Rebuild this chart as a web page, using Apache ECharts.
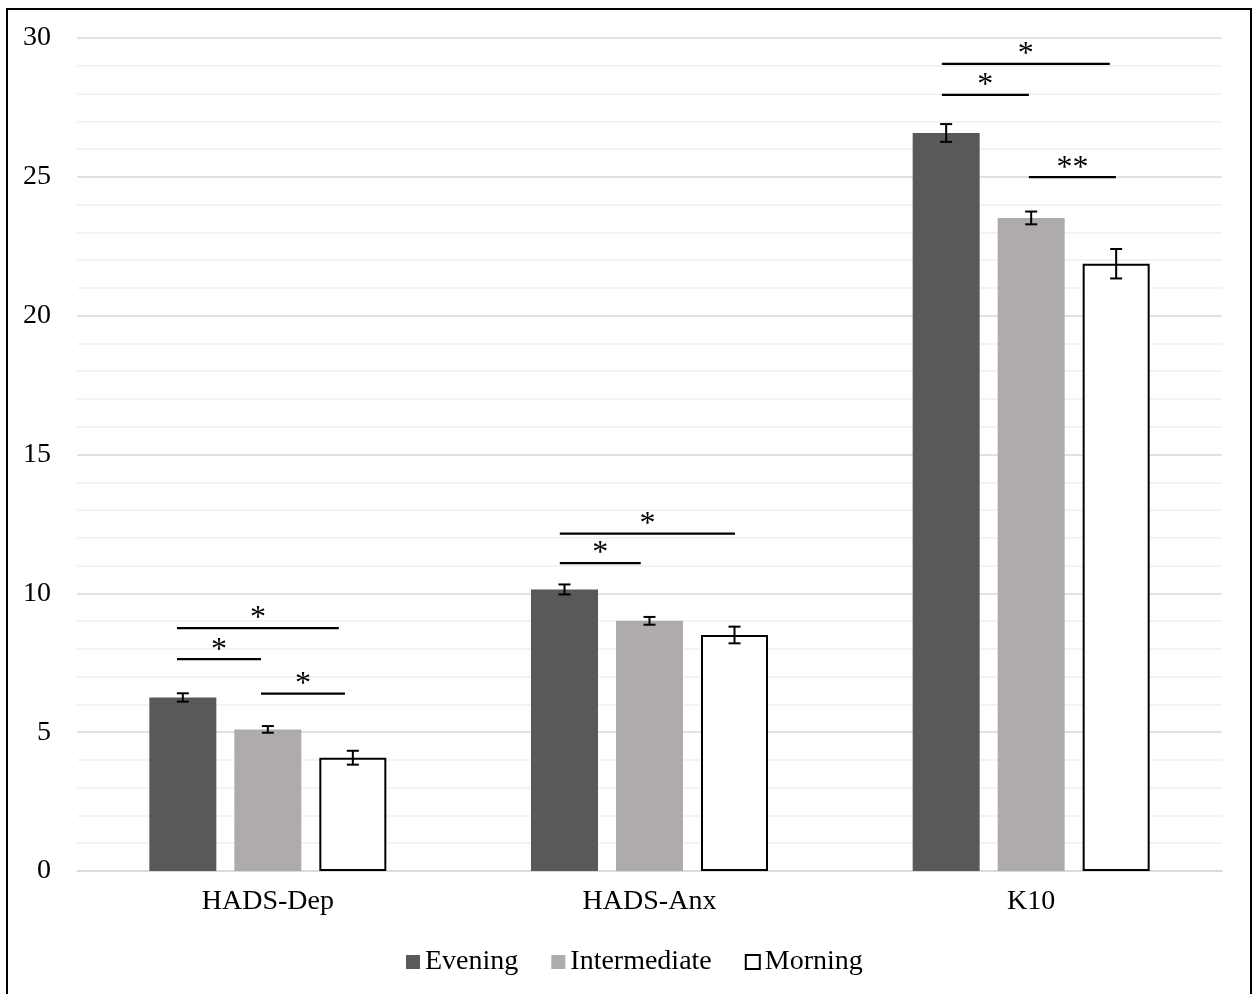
<!DOCTYPE html>
<html>
<head>
<meta charset="utf-8">
<script src="https://cdn.jsdelivr.net/npm/echarts@6/dist/echarts.min.js"></script>
<style>
html,body{margin:0;padding:0;background:#fff;}
#frame{position:absolute;left:6px;top:8px;width:1242px;height:990px;border-left:2px solid #000;border-top:2px solid #000;border-right:2px solid #000;}
#main{position:absolute;left:0;top:0;width:1257px;height:994px;}
</style>
</head>
<body>
<div id="frame"></div>
<div id="main"></div>
<script>
const categories = ['HADS-Dep', 'HADS-Anx', 'K10'];
const seriesNames = ['Evening', 'Intermediate', 'Morning'];
const evening = [6.25, 10.14, 26.58];
const intermediate = [5.10, 9.01, 23.52];
const morning = [4.08, 8.50, 21.87];
const errEvening = [0.15, 0.18, 0.32];
const errIntermediate = [0.12, 0.14, 0.23];
const errMorning = [0.25, 0.30, 0.53];
// significance brackets: [x start, x end (category units, 0..3), y value, label]
const brackets = [
  [0.262, 0.686, 8.75, '*'],
  [0.262, 0.482, 7.63, '*'],
  [0.482, 0.702, 6.39, '*'],
  [1.265, 1.724, 12.15, '*'],
  [1.265, 1.477, 11.09, '*'],
  [2.266, 2.706, 29.07, '*'],
  [2.266, 2.494, 27.95, '*'],
  [2.494, 2.722, 24.99, '**']
];

const FONT = '"Liberation Serif", "Times New Roman", serif';
const BAR_W = 67, BAR_GAP_PX = 18;
const values = [evening, intermediate, morning];
const errs = [errEvening, errIntermediate, errMorning];
const errData = [];
for (let s = 0; s < 3; s++) for (let c = 0; c < 3; c++) errData.push([c, values[s][c], errs[s][c], s]);

const chart = echarts.init(document.getElementById('main'), null, {renderer: 'canvas'});
const styles = [
  {color: '#595959'},
  {color: '#AFABAB'},
  {color: '#FFFFFF', borderColor: '#000000', borderWidth: 2}
];
const option = {
  animation: false,
  backgroundColor: 'transparent',
  grid: {left: 77, right: 35, top: 38, bottom: 123, containLabel: false},
  legend: {
    data: seriesNames,
    left: 401,
    top: 943,
    icon: 'rect',
    itemWidth: 14,
    itemHeight: 14,
    itemGap: 33,
    textStyle: {fontFamily: FONT, fontSize: 28, color: '#000', padding: [0,0,0,0]}
  },
  xAxis: [
    {
      type: 'category', data: categories,
      axisLine: {lineStyle: {color: '#d9d9d9', width: 1.5}},
      axisTick: {show: false},
      axisLabel: {fontFamily: FONT, fontSize: 28, color: '#000', margin: 17}
    },
    {type: 'value', min: 0, max: 3, show: false}
  ],
  yAxis: {
    type: 'value', min: 0, max: 30, interval: 5,
    axisLine: {show: false}, axisTick: {show: false},
    axisLabel: {fontFamily: FONT, fontSize: 28, color: '#000', margin: 26},
    splitLine: {lineStyle: {color: '#d9d9d9', width: 1.5}},
    minorTick: {show: false, splitNumber: 5},
    minorSplitLine: {show: true, lineStyle: {color: '#f0f0f0', width: 1.5}}
  },
  series: [
    ...seriesNames.map((n, i) => ({
      name: n, type: 'bar', data: values[i], barWidth: BAR_W,
      barGap: (BAR_GAP_PX / BAR_W * 100) + '%',
      itemStyle: styles[i]
    })),
    {
      type: 'custom', xAxisIndex: 0, data: errData, z: 10,
      encode: {x: 0, y: 1},
      renderItem: function (params, api) {
        const c = api.value(0), v = api.value(1), e = api.value(2), s = api.value(3);
        const off = (s - 1) * (BAR_W + BAR_GAP_PX);
        const top = api.coord([c, v + e]);
        const bot = api.coord([c, v - e]);
        const x = top[0] + off;
        const st = {stroke: '#000', lineWidth: 2};
        return {type: 'group', children: [
          {type: 'line', shape: {x1: x, y1: top[1], x2: x, y2: bot[1]}, style: st},
          {type: 'line', shape: {x1: x - 6, y1: top[1], x2: x + 6, y2: top[1]}, style: st},
          {type: 'line', shape: {x1: x - 6, y1: bot[1], x2: x + 6, y2: bot[1]}, style: st}
        ]};
      }
    },
    {
      type: 'custom', xAxisIndex: 1, data: brackets, z: 10,
      encode: {x: [0, 1], y: 2},
      renderItem: function (params, api) {
        const p1 = api.coord([api.value(0), api.value(2)]);
        const p2 = api.coord([api.value(1), api.value(2)]);
        const label = brackets[params.dataIndex][3];
        return {type: 'group', children: [
          {type: 'line', shape: {x1: p1[0], y1: p1[1], x2: p2[0], y2: p2[1]}, style: {stroke: '#000', lineWidth: 2.2}},
          {type: 'text', x: (p1[0] + p2[0]) / 2, y: p1[1] - 9,
           style: {text: label, fontFamily: FONT, fontSize: 32, fill: '#000', align: 'center', verticalAlign: 'middle'}}
        ]};
      }
    }
  ]
};
chart.setOption(option);
</script>
</body>
</html>
